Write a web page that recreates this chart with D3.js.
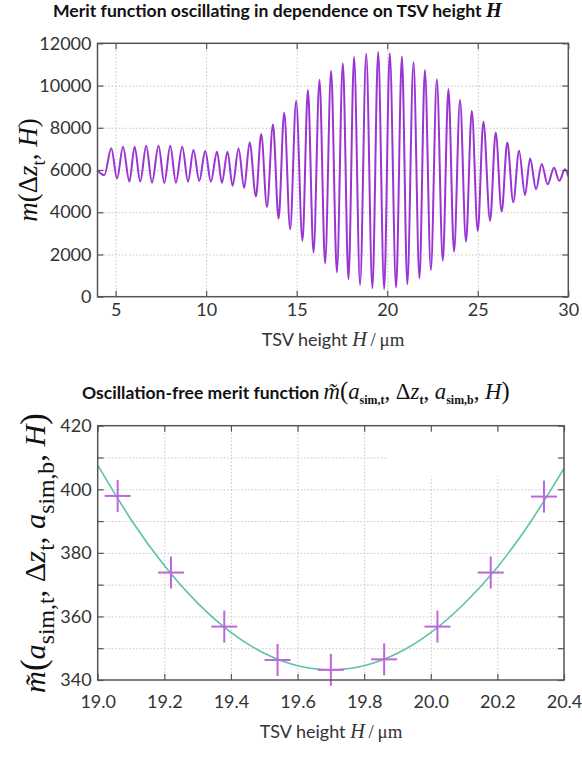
<!DOCTYPE html>
<html><head><meta charset="utf-8">
<script src="https://cdn.jsdelivr.net/npm/d3@7"></script>
<style>body{margin:0;background:#fff}</style>
</head><body>
<svg id="c" width="582" height="761"></svg>
<script>
// ---------- DATA ----------
// top panel: local extrema of the oscillating merit function
const topH = [4.00,4.38,4.76,5.08,5.41,5.76,6.05,6.36,6.69,7.01,7.37,7.69,8.02,8.33,8.68,9.00,9.30,9.62,9.95,10.26,10.60,10.87,11.18,11.46,11.79,12.10,12.40,12.75,13.04,13.36,13.69,14.00,14.31,14.64,14.97,15.32,15.62,15.93,16.26,16.57,16.90,17.22,17.55,17.86,18.17,18.50,18.84,19.18,19.50,19.83,20.14,20.49,20.81,21.11,21.45,21.78,22.08,22.41,22.74,23.07,23.38,23.69,24.02,24.35,24.67,25.00,25.31,25.68,25.99,26.32,26.63,26.96,27.28,27.61,27.89,28.22,28.53,28.86,29.21,29.50,29.82,30.00];
const topM = [5980,5760,7030,5600,7100,5450,7100,5450,7150,5400,7150,5380,7150,5400,7100,5450,6950,5480,6900,5450,6870,5400,6870,5250,7020,5150,7300,4750,7700,4250,8150,3700,8710,3200,9270,2650,9790,2085,10270,1580,10700,1155,11060,825,11350,555,11500,400,11590,365,11530,430,11370,590,11100,870,10740,1265,10300,1705,9835,2130,9315,2605,8795,3110,8290,3600,7770,4030,7300,4470,6915,4815,6550,5085,6285,5320,6110,5490,6030,5700];
const topXTicks = [5,10,15,20,25,30];
const topYTicks = [0,2000,4000,6000,8000,10000,12000];

// bottom panel: fitted curve and simulated points
const botCurveH = [19.0,19.1,19.2,19.3,19.4,19.5,19.6,19.7,19.8,19.9,20.0,20.1,20.2,20.3,20.4];
const botCurveM = [407.6,390.5,376.0,364.2,355.0,348.4,344.5,343.2,344.5,348.4,354.9,364.0,375.5,389.8,406.6];
const botPtsH = [19.06,19.22,19.38,19.54,19.70,19.86,20.02,20.18,20.34];
const botPtsM = [397.9,373.8,356.8,346.3,343.2,346.5,356.8,373.8,397.7];
const botXTicks = [19.0,19.2,19.4,19.6,19.8,20.0,20.2,20.4];
const botYTicks = [340,350,360,370,380,390,400,410,420];
const botYLabels = [340,360,380,400,420];

// ---------- DRAWING ----------
const svg = d3.select('#c');
const SANS = 'Lato, "Open Sans", sans-serif';
const SERIF = '"Liberation Serif", "DejaVu Serif", serif';
const FRAME = '#555';
const GRID = '#c4c4c4';
const TXT = '#333';

function rich(t, parts, size, subK){
  subK = subK || 0.68;
  let shift = 0;
  parts.forEach(p=>{
    const target = p.sub ? size*0.3 : 0;
    const ts = t.append('tspan').text(p.t)
      .attr('font-family', p.serif ? SERIF : SANS)
      .attr('font-style', p.it ? 'italic' : 'normal')
      .attr('font-weight', p.b ? 'bold' : 'normal')
      .attr('font-size', (p.sub ? subK : (p.sc || 1)) * size);
    if (target !== shift){ ts.attr('dy', target - shift); shift = target; }
  });
  return t;
}
function fitWidth(t, w){
  const cur = t.node().getComputedTextLength();
  const k = w / cur;
  t.selectAll('tspan').each(function(){
    const s = d3.select(this);
    s.attr('font-size', +s.attr('font-size') * k);
    if (s.attr('dy')) s.attr('dy', +s.attr('dy') * k);
  });
}

function panel(x, y, xTicks, yTicks, occl){
  const [L, R] = x.range();
  const [B, T] = y.range();
  const g = svg.append('g');
  const gx = g.append('g').attr('transform', `translate(0,${B})`)
    .call(d3.axisBottom(x).tickValues(xTicks.filter(v => v > x.domain()[0] && v < x.domain()[1])).tickSize(-(B - T)).tickFormat(''));
  const gy = g.append('g').attr('transform', `translate(${L},0)`)
    .call(d3.axisLeft(y).tickValues(yTicks.filter(v => v > y.domain()[0] && v < y.domain()[1])).tickSize(-(R - L)).tickFormat(''));
  [gx, gy].forEach(a => {
    a.select('.domain').remove();
    a.selectAll('line').attr('stroke', GRID).attr('stroke-width', 1).attr('stroke-dasharray', '1.5,2');
  });
  if (occl) g.append('rect').attr('x', occl[0]).attr('y', occl[1]).attr('width', occl[2]).attr('height', occl[3]).attr('fill', '#fff');
  return g;
}
function frame(g, x, y, xTicks, yTicks, yLabels, xFmt, yPad, xPad){
  const [L, R] = x.range();
  const [B, T] = y.range();
  const axB = g.append('g').attr('transform', `translate(0,${B})`)
    .call(d3.axisBottom(x).tickValues(xTicks).tickSizeInner(-6).tickSizeOuter(0).tickPadding(xPad).tickFormat(xFmt));
  const axT = g.append('g').attr('transform', `translate(0,${T})`)
    .call(d3.axisTop(x).tickValues(xTicks).tickSizeInner(-6).tickSizeOuter(0).tickFormat(''));
  const axL = g.append('g').attr('transform', `translate(${L},0)`)
    .call(d3.axisLeft(y).tickValues(yTicks).tickSizeInner(-6).tickSizeOuter(0).tickPadding(yPad)
      .tickFormat(d => yLabels.includes(d) ? d : ''));
  const axR = g.append('g').attr('transform', `translate(${R},0)`)
    .call(d3.axisRight(y).tickValues(yTicks).tickSizeInner(-6).tickSizeOuter(0).tickFormat(''));
  [axB, axT, axL, axR].forEach(a => {
    a.select('.domain').remove();
    a.selectAll('line').attr('stroke', FRAME).attr('stroke-width', 1.2);
    a.selectAll('text').attr('font-family', SANS).attr('font-size', 18).attr('fill', TXT);
  });
  g.append('rect').attr('x', L).attr('y', T).attr('width', R - L).attr('height', B - T)
    .attr('fill', 'none').attr('stroke', FRAME).attr('stroke-width', 1.5);
}

// ---- top panel ----
const x1 = d3.scaleLinear().domain([4, 30]).range([97.5, 568.3]);
const y1 = d3.scaleLinear().domain([0, 12000]).range([296.7, 43.3]);
const g1 = panel(x1, y1, topXTicks, topYTicks, null);
g1.append('path')
  .datum(topH.map((h, i) => [h, topM[i]]))
  .attr('d', d3.line().x(d => x1(d[0])).y(d => y1(d[1])).curve(d3.curveMonotoneX))
  .attr('fill', 'none').attr('stroke', '#9a35d4').attr('stroke-width', 2);
frame(g1, x1, y1, topXTicks, topYTicks, topYTicks, d3.format('d'), 6, 7);

// ---- bottom panel ----
const x2 = d3.scaleLinear().domain([19.0, 20.4]).range([97.7, 564]);
const y2 = d3.scaleLinear().domain([340, 420]).range([680, 425.7]);
const g2 = panel(x2, y2, botXTicks, botYTicks, [387, 426.5, 176.5, 50]);
g2.append('path')
  .datum(botCurveH.map((h, i) => [h, botCurveM[i]]))
  .attr('d', d3.line().x(d => x2(d[0])).y(d => y2(d[1])).curve(d3.curveNatural))
  .attr('fill', 'none').attr('stroke', '#5cc3a6').attr('stroke-width', 1.6);
const crosses = g2.append('g').selectAll('g').data(botPtsH.map((h, i) => [h, botPtsM[i]])).join('g')
  .attr('transform', d => `translate(${x2(d[0])},${y2(d[1])})`);
crosses.append('line').attr('x1', -13).attr('x2', 13).attr('y1', 0).attr('y2', 0);
crosses.append('line').attr('x1', 0).attr('x2', 0).attr('y1', -16).attr('y2', 16);
crosses.selectAll('line').attr('stroke', '#c064e0').attr('stroke-width', 2);
frame(g2, x2, y2, botXTicks, botYTicks, botYLabels, d3.format('.1f'), 6, 15);

// ---- texts ----
const t1 = svg.append('text').attr('x', 53).attr('y', 17).attr('fill', '#111');
rich(t1, [{t: 'Merit function oscillating in dependence on TSV height ', b: 1}, {t: 'H', serif: 1, it: 1, b: 1, sc: 1.15}], 17);
fitWidth(t1, 449);

const xl1 = svg.append('text').attr('x', 333).attr('y', 346).attr('text-anchor', 'middle').attr('fill', TXT);
rich(xl1, [{t: 'TSV height '}, {t: 'H', serif: 1, it: 1, sc: 1.12}, {t: '\u2009/\u2009μm', serif: 1, sc: 1.05}], 18);

const yl1 = svg.append('text').attr('transform', 'translate(37,170) rotate(-90)').attr('text-anchor', 'middle').attr('fill', '#111');
rich(yl1, [{t: 'm', serif: 1, it: 1}, {t: '(Δ', serif: 1}, {t: 'z', serif: 1, it: 1}, {t: 't', serif: 1, sub: 1}, {t: ', ', serif: 1}, {t: 'H', serif: 1, it: 1}, {t: ')', serif: 1}], 27);

const t2 = svg.append('text').attr('x', 82).attr('y', 399).attr('fill', '#111');
rich(t2, [
  {t: 'Oscillation-free merit function ', b: 1},
  {t: 'm\u0303', serif: 1, it: 1, sc: 1.3},
  {t: '(', serif: 1, sc: 1.4},
  {t: 'a', serif: 1, it: 1, sc: 1.3}, {t: 'sim,t', serif: 1, sub: 1, b: 1},
  {t: ', Δ', serif: 1, sc: 1.3}, {t: 'z', serif: 1, it: 1, sc: 1.3}, {t: 't', serif: 1, sub: 1, b: 1},
  {t: ', ', serif: 1, sc: 1.3},
  {t: 'a', serif: 1, it: 1, sc: 1.3}, {t: 'sim,b', serif: 1, sub: 1, b: 1},
  {t: ', ', serif: 1, sc: 1.3}, {t: 'H', serif: 1, it: 1, sc: 1.3}, {t: ')', serif: 1, sc: 1.4}
], 17);
fitWidth(t2, 428);

const xl2 = svg.append('text').attr('x', 331).attr('y', 738).attr('text-anchor', 'middle').attr('fill', TXT);
rich(xl2, [{t: 'TSV height '}, {t: 'H', serif: 1, it: 1, sc: 1.12}, {t: '\u2009/\u2009μm', serif: 1, sc: 1.05}], 18);

const yl2 = svg.append('text').attr('transform', 'translate(45,553) rotate(-90)').attr('text-anchor', 'middle').attr('fill', '#111');
rich(yl2, [
  {t: 'm\u0303', serif: 1, it: 1}, {t: '(', serif: 1, sc: 1.15},
  {t: 'a', serif: 1, it: 1}, {t: 'sim,t', serif: 1, sub: 1},
  {t: ', Δ', serif: 1}, {t: 'z', serif: 1, it: 1}, {t: 't', serif: 1, sub: 1},
  {t: ', ', serif: 1}, {t: 'a', serif: 1, it: 1}, {t: 'sim,b', serif: 1, sub: 1},
  {t: ', ', serif: 1}, {t: 'H', serif: 1, it: 1}, {t: ')', serif: 1, sc: 1.15}
], 26, 0.78);
fitWidth(yl2, 280);
</script>
</body></html>
